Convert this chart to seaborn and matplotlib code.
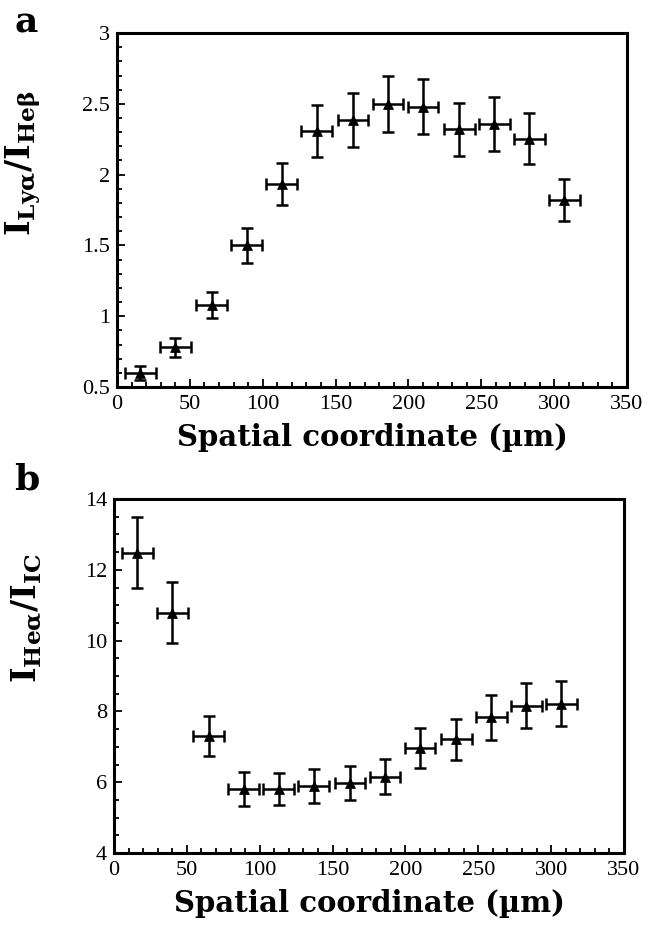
import matplotlib
matplotlib.use("Agg")
import matplotlib.pyplot as plt
from matplotlib.ticker import MultipleLocator, FuncFormatter
import seaborn as sns
import pandas as pd

# spatial positions (um) and horizontal error
x_pos = [16, 40, 65, 89, 113, 137, 162, 186, 210, 235, 259, 283, 307]
x_err = [10.5] * 13

# panel a: I_Lya / I_Heb
ratio_a = [0.60, 0.78, 1.08, 1.50, 1.935, 2.31, 2.385, 2.50, 2.48, 2.32, 2.36, 2.255, 1.82]
err_a = [0.05, 0.065, 0.09, 0.123, 0.15, 0.185, 0.19, 0.20, 0.195, 0.185, 0.19, 0.183, 0.15]

# panel b: I_Hea / I_IC
ratio_b = [12.48, 10.79, 7.31, 5.80, 5.80, 5.88, 5.97, 6.16, 6.96, 7.22, 7.83, 8.16, 8.22]
err_b = [1.0, 0.87, 0.57, 0.48, 0.45, 0.48, 0.48, 0.50, 0.56, 0.58, 0.64, 0.64, 0.64]

sns.set_style("ticks", rc={"text.color": "black", "axes.labelcolor": "black",
                           "xtick.color": "black", "ytick.color": "black",
                           "axes.edgecolor": "black"})
plt.rcParams['font.family'] = ['DejaVu Serif']
plt.rcParams['mathtext.fontset'] = 'dejavuserif'

fig = plt.figure(figsize=(6.54, 9.25), dpi=100)
ax_a = fig.add_axes([0.1789, 0.5816, 0.7798, 0.3827])
ax_b = fig.add_axes([0.1743, 0.0778, 0.7798, 0.3827])

tick_font = {'family': 'Liberation Serif', 'size': 16}


def draw_panel(ax, y, yerr, ylim, ymaj, ymin, ylabel, lab_xy):
    df = pd.DataFrame({"x": x_pos, "y": y})
    ax.errorbar(x_pos, y, xerr=x_err, yerr=yerr, fmt='none', ecolor='black',
                elinewidth=1.8, capsize=4.5, capthick=1.8)
    sns.scatterplot(data=df, x="x", y="y", ax=ax, marker='^', color='black',
                    s=50, edgecolor='black', zorder=3)
    ax.set_xlim(0, 350)
    ax.set_ylim(*ylim)
    ax.xaxis.set_major_locator(MultipleLocator(50))
    ax.xaxis.set_minor_locator(MultipleLocator(10))
    ax.yaxis.set_major_locator(MultipleLocator(ymaj))
    ax.yaxis.set_minor_locator(MultipleLocator(ymin))
    ax.yaxis.set_major_formatter(FuncFormatter(lambda v, p: '%g' % v))
    ax.tick_params(which='both', direction='in', top=False, right=False, width=1.3)
    ax.tick_params(which='major', length=6)
    ax.tick_params(which='minor', length=3.5)
    ax.tick_params(axis='x', pad=6)
    ax.tick_params(axis='y', pad=5)
    for lbl in ax.get_xticklabels() + ax.get_yticklabels():
        lbl.set_fontfamily(tick_font['family'])
        lbl.set_fontsize(tick_font['size'])
    for sp in ax.spines.values():
        sp.set_linewidth(2.2)
    ax.set_xlabel("Spatial coordinate (µm)", fontsize=21, fontweight='bold', labelpad=6)
    ax.set_ylabel(ylabel, fontsize=24)
    ax.yaxis.set_label_coords(*lab_xy)


draw_panel(ax_a, ratio_a, err_a, (0.5, 3), 0.5, 0.1,
           r'$\mathbf{I_{Ly\alpha}/I_{He\beta}}$', (-0.145, 0.633))
draw_panel(ax_b, ratio_b, err_b, (4, 14), 2, 0.5,
           r'$\mathbf{I_{He\alpha}/I_{IC}}$', (-0.137, 0.664))

fig.text(0.022, 0.9654, "a", fontsize=26, fontweight='bold', va='baseline')
fig.text(0.022, 0.4703, "b", fontsize=26, fontweight='bold', va='baseline')

fig.savefig("out.png", dpi=100)
